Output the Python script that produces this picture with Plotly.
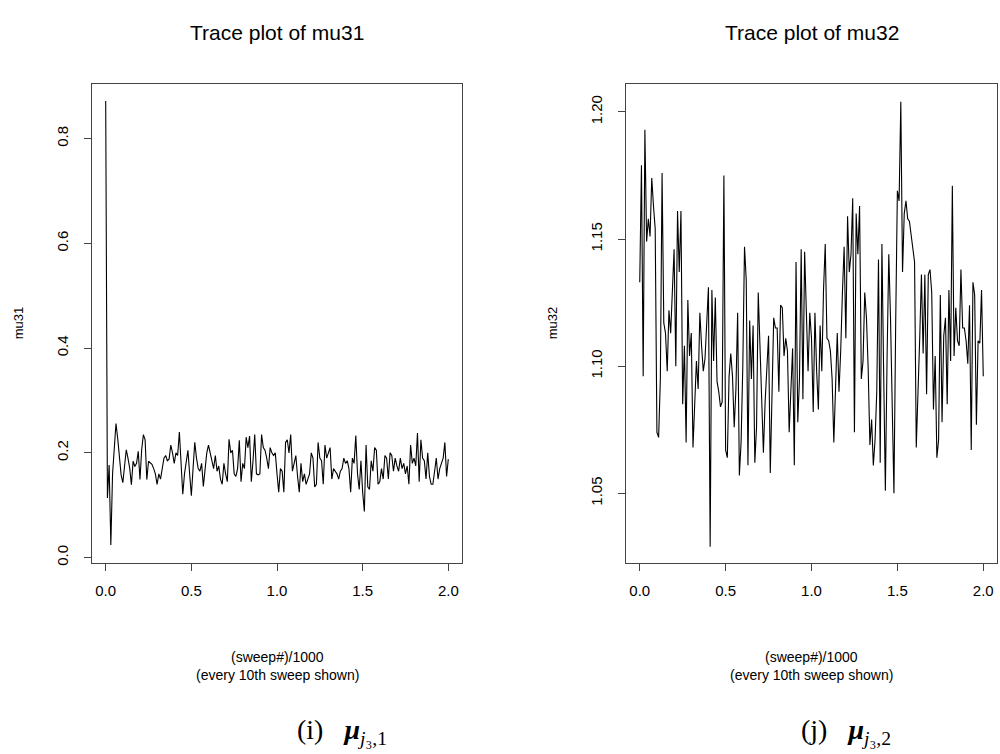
import plotly.graph_objects as go

# ---- data ----
sweep_k = [i / 100 for i in range(201)]  # (sweep#)/1000, every 10th sweep

mu31 = [
    0.872, 0.114, 0.177, 0.024, 0.160, 0.215, 0.256, 0.228, 0.190, 0.158,
    0.143, 0.177, 0.206, 0.190, 0.171, 0.139, 0.184, 0.174, 0.180, 0.203,
    0.149, 0.206, 0.235, 0.225, 0.149, 0.184, 0.180, 0.178, 0.170, 0.160,
    0.140, 0.160, 0.150, 0.175, 0.190, 0.195, 0.185, 0.188, 0.215, 0.200,
    0.180, 0.200, 0.195, 0.240, 0.180, 0.121, 0.160, 0.185, 0.205, 0.160,
    0.118, 0.170, 0.220, 0.190, 0.170, 0.165, 0.180, 0.136, 0.175, 0.200,
    0.215, 0.200, 0.190, 0.170, 0.195, 0.165, 0.175, 0.150, 0.140, 0.180,
    0.160, 0.145, 0.226, 0.200, 0.205, 0.160, 0.155, 0.170, 0.224, 0.145,
    0.180, 0.170, 0.230, 0.210, 0.232, 0.145, 0.185, 0.235, 0.160, 0.158,
    0.160, 0.235, 0.210, 0.205, 0.190, 0.170, 0.210, 0.200, 0.195, 0.200,
    0.160, 0.125, 0.170, 0.165, 0.125, 0.220, 0.225, 0.200, 0.235, 0.165,
    0.180, 0.195, 0.155, 0.125, 0.180, 0.145, 0.160, 0.140, 0.150, 0.160,
    0.200, 0.190, 0.135, 0.140, 0.220, 0.190, 0.185, 0.140, 0.215, 0.190,
    0.200, 0.210, 0.150, 0.170, 0.165, 0.160, 0.150, 0.165, 0.170, 0.190,
    0.180, 0.185, 0.170, 0.125, 0.190, 0.180, 0.233, 0.160, 0.130, 0.185,
    0.125, 0.088, 0.215, 0.135, 0.130, 0.185, 0.165, 0.210, 0.205, 0.140,
    0.145, 0.170, 0.150, 0.195, 0.190, 0.150, 0.200, 0.195, 0.165, 0.190,
    0.175, 0.165, 0.190, 0.170, 0.180, 0.160, 0.175, 0.140, 0.215, 0.180,
    0.190, 0.175, 0.238, 0.145, 0.225, 0.190, 0.185, 0.150, 0.200, 0.155,
    0.140, 0.140, 0.165, 0.190, 0.150, 0.170, 0.180, 0.190, 0.220, 0.155, 0.188,
]

mu32 = [
    1.133, 1.179, 1.096, 1.193, 1.149, 1.158, 1.151, 1.174, 1.163, 1.154,
    1.074, 1.072, 1.095, 1.176, 1.117, 1.113, 1.098, 1.122, 1.113, 1.129,
    1.146, 1.100, 1.161, 1.137, 1.161, 1.085, 1.108, 1.070, 1.126, 1.104,
    1.113, 1.068, 1.085, 1.102, 1.091, 1.121, 1.108, 1.098, 1.103, 1.117,
    1.131, 1.029, 1.130, 1.102, 1.127, 1.094, 1.090, 1.084, 1.086, 1.175,
    1.067, 1.064, 1.096, 1.105, 1.096, 1.076, 1.091, 1.121, 1.057, 1.070,
    1.100, 1.147, 1.134, 1.061, 1.118, 1.095, 1.116, 1.062, 1.076, 1.129,
    1.108, 1.082, 1.066, 1.086, 1.098, 1.112, 1.058, 1.090, 1.119, 1.115,
    1.115, 1.090, 1.124, 1.123, 1.104, 1.111, 1.106, 1.074, 1.091, 1.107,
    1.061, 1.141, 1.078, 1.095, 1.146, 1.087, 1.145, 1.121, 1.098, 1.121,
    1.111, 1.082, 1.121, 1.098, 1.083, 1.116, 1.098, 1.130, 1.148, 1.111,
    1.110, 1.106, 1.095, 1.070, 1.095, 1.113, 1.090, 1.106, 1.129, 1.147,
    1.111, 1.159, 1.137, 1.144, 1.166, 1.074, 1.160, 1.144, 1.163, 1.095,
    1.102, 1.129, 1.119, 1.099, 1.069, 1.079, 1.061, 1.071, 1.090, 1.142,
    1.062, 1.148, 1.098, 1.051, 1.103, 1.144, 1.119, 1.090, 1.050, 1.116,
    1.169, 1.165, 1.204, 1.137, 1.160, 1.165, 1.158, 1.157, 1.151, 1.145,
    1.141, 1.068, 1.087, 1.111, 1.136, 1.105, 1.136, 1.089, 1.136, 1.138,
    1.129, 1.083, 1.104, 1.064, 1.071, 1.128, 1.078, 1.112, 1.119, 1.085,
    1.130, 1.102, 1.171, 1.104, 1.123, 1.110, 1.108, 1.138, 1.115, 1.115,
    1.110, 1.101, 1.124, 1.067, 1.133, 1.128, 1.077, 1.110, 1.109, 1.130, 1.096,
]

x_ticks = [0.0, 0.5, 1.0, 1.5, 2.0]
x_tick_labels = ["0.0", "0.5", "1.0", "1.5", "2.0"]
y1_ticks = [0.0, 0.2, 0.4, 0.6, 0.8]
y1_tick_labels = ["0.0", "0.2", "0.4", "0.6", "0.8"]
y2_ticks = [1.05, 1.10, 1.15, 1.20]
y2_tick_labels = ["1.05", "1.10", "1.15", "1.20"]

titles = ["Trace plot of mu31", "Trace plot of mu32"]
ylabels = ["mu31", "mu32"]
xlabel_lines = ["(sweep#)/1000", "(every 10th sweep shown)"]
captions = ["(i)   <b><i>μ</i></b><sub><i>j</i>₃,1</sub>",
            "(j)   <b><i>μ</i></b><sub><i>j</i>₃,2</sub>"]
caption_centers = [342, 846]

W, H = 1000, 754
SANS = "Liberation Sans, Arial, Helvetica, sans-serif"
SERIF = "Liberation Serif, DejaVu Serif, serif"

# plot boxes in pixels (left, right, top, bottom)
boxes = [(92, 462, 84, 565), (626, 997, 84, 565)]

def px_x(p):
    return p / W

def px_y(p):
    return 1 - p / H

fig = go.Figure()
fig.add_trace(go.Scatter(x=sweep_k, y=mu31, mode="lines",
                         line=dict(color="black", width=1.1),
                         xaxis="x", yaxis="y", showlegend=False, hoverinfo="skip"))
fig.add_trace(go.Scatter(x=sweep_k, y=mu32, mode="lines",
                         line=dict(color="black", width=1.1),
                         xaxis="x2", yaxis="y2", showlegend=False, hoverinfo="skip"))

axis_common = dict(showgrid=False, zeroline=False, showline=True, mirror=True,
                   linecolor="#444", linewidth=1, ticks="outside", ticklen=7,
                   tickcolor="#444", tickwidth=1,
                   tickfont=dict(family=SANS, size=15, color="black"))

(l1, r1, t1, b1), (l2, r2, t2, b2) = boxes
fig.update_layout(
    width=W, height=H,
    margin=dict(l=0, r=0, t=0, b=0),
    paper_bgcolor="white", plot_bgcolor="white",
    xaxis=dict(domain=[px_x(l1), px_x(r1)], range=[-0.08, 2.08], anchor="y",
               tickvals=x_ticks, ticktext=x_tick_labels, ticklabelstandoff=7,
               **axis_common),
    yaxis=dict(domain=[px_y(b1), px_y(t1)], range=[-0.0098, 0.905], anchor="x",
               tickvals=y1_ticks, ticktext=y1_tick_labels, tickangle=-90,
               ticklabelstandoff=10, **axis_common),
    xaxis2=dict(domain=[px_x(l2), px_x(r2)], range=[-0.08, 2.08], anchor="y2",
                tickvals=x_ticks, ticktext=x_tick_labels, ticklabelstandoff=7,
                **axis_common),
    yaxis2=dict(domain=[px_y(b2), px_y(t2)], range=[1.0227, 1.2111], anchor="x2",
                tickvals=y2_ticks, ticktext=y2_tick_labels, tickangle=-90,
                ticklabelstandoff=10, **axis_common),
)

annotations = []
for k, (l, r, t, b) in enumerate(boxes):
    cx = px_x((l + r) / 2)
    annotations.append(dict(text=titles[k], x=cx, y=px_y(33), xref="paper", yref="paper",
                            showarrow=False, xanchor="center", yanchor="middle",
                            font=dict(family=SANS, size=21, color="black")))
    annotations.append(dict(text=ylabels[k], x=px_x(l - 74), y=px_y((t + b) / 2),
                            xref="paper", yref="paper", showarrow=False, textangle=-90,
                            xanchor="center", yanchor="middle",
                            font=dict(family=SANS, size=13, color="black")))
    for j, line in enumerate(xlabel_lines):
        annotations.append(dict(text=line, x=cx, y=px_y(660 + 18 * j), xref="paper",
                                yref="paper", showarrow=False, xanchor="center",
                                yanchor="middle",
                                font=dict(family=SANS, size=14, color="black")))
    annotations.append(dict(text=captions[k], x=px_x(caption_centers[k]), y=px_y(734),
                            xref="paper", yref="paper", showarrow=False,
                            xanchor="center", yanchor="middle",
                            font=dict(family=SERIF, size=28, color="black")))
fig.update_layout(annotations=annotations)

fig.write_html("out.html")
